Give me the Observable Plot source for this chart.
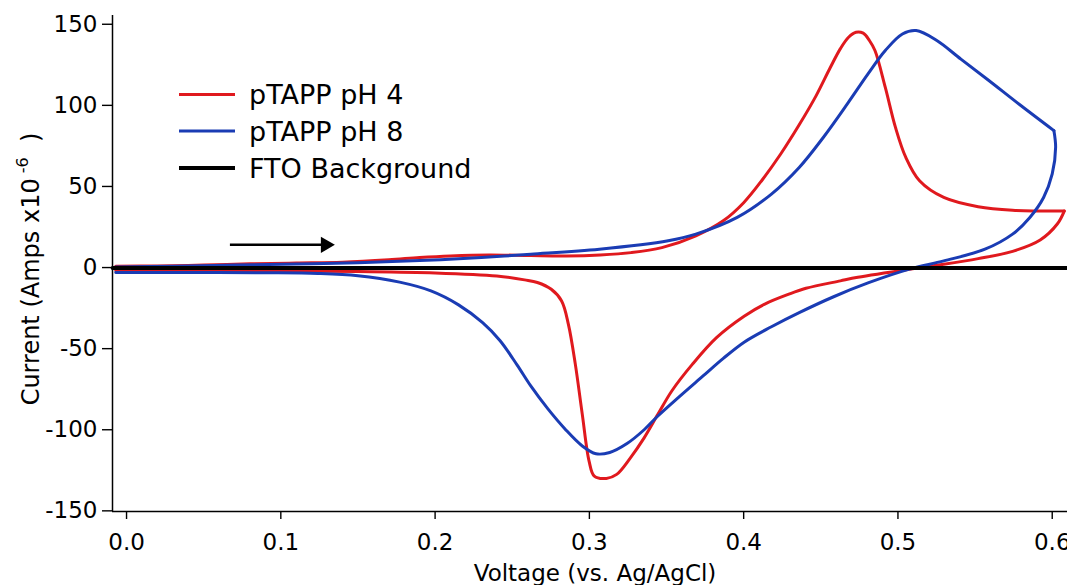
<!DOCTYPE html>
<html>
<head>
<meta charset="utf-8">
<script src="https://cdn.jsdelivr.net/npm/d3@7"></script>
<script src="https://cdn.jsdelivr.net/npm/@observablehq/plot@0.6"></script>
<style>
  html, body { margin: 0; padding: 0; background: #fff; }
  svg { display: block; }
</style>
</head>
<body>
<div id="chart"></div>
<script>
// ---- Data ----
const seriesNames = ["pTAPP pH 4", "pTAPP pH 8", "FTO Background"];
const seriesColors = ["#e0191e", "#1a3cb4", "#000000"];

// Voltage (V vs Ag/AgCl) and Current (A x 1e-6), forward and reverse scans
const ph4ForwardV = [-0.007,0.02,0.05,0.08,0.11,0.14,0.17,0.19,0.21,0.235,0.262,0.285,0.307,0.327,0.347,0.369,0.387,0.400,0.412,0.424,0.436,0.447,0.456,0.4627,0.468,0.4728,0.4775,0.4815,0.4851,0.4918,0.4984,0.5051,0.514,0.5297,0.552,0.5743,0.6078];
const ph4ForwardI = [0.8,1.0,1.5,2.3,2.8,3.3,4.8,6.2,7.2,7.8,7.4,7.2,7.8,9.2,12.3,19.6,29,40,54,70,88,106,123,135,142,145.1,144.5,140,133.8,111.1,86.4,67.9,53.5,43.2,37.5,35.3,34.8];
const ph4ReverseV = [0.6078,0.6034,0.5922,0.5743,0.552,0.5297,0.5074,0.474,0.4627,0.4404,0.4293,0.4137,0.4003,0.3824,0.3667,0.3534,0.3444,0.3355,0.3266,0.3177,0.311,0.3032,0.2998,0.2954,0.2909,0.2864,0.282,0.2753,0.2663,0.258,0.24,0.2,0.15,0.1,0.05,-0.007];
const ph4ReverseI = [34.8,27,17,10,5.5,2,-1,-6,-8.2,-12.8,-16.4,-22.5,-30,-43.2,-59.7,-76.1,-90.5,-105,-117.3,-127.5,-130,-128.6,-119.3,-90.5,-59.7,-35,-20.6,-13.4,-9.2,-7.6,-5.2,-3.3,-2.5,-2.2,-2.0,-1.8];

const ph8ForwardV = [-0.007,0.03,0.07,0.11,0.15,0.19,0.23,0.262,0.3065,0.3511,0.369,0.3958,0.418,0.436,0.4516,0.4672,0.4806,0.4918,0.5029,0.5118,0.5252,0.5408,0.5587,0.5788,0.6011];
const ph8ForwardI = [0.3,0.8,1.5,2.2,3.0,4.3,6.2,8.2,11.3,16.5,20.6,30.9,45.3,61.7,80.2,100.9,119.4,133.8,144,146.1,140,128.5,115.5,100.5,84.4];
const ph8ReverseV = [0.6011,0.6022,0.6,0.5944,0.5855,0.5743,0.5564,0.5297,0.5074,0.4806,0.4583,0.436,0.418,0.4003,0.3868,0.3735,0.3578,0.3444,0.3355,0.3244,0.3132,0.3043,0.2954,0.2842,0.273,0.262,0.2531,0.242,0.2308,0.2152,0.1973,0.177,0.15,0.124,0.09,0.04,-0.007];
const ph8ReverseI = [84.4,74.1,57.7,43.2,30.9,20.6,11.3,4.1,-1,-9.5,-18,-27.8,-36.5,-46,-56,-67,-80,-91.5,-100,-108.5,-114,-114.8,-110,-99.5,-87,-73,-60,-45,-34,-23,-14.4,-9,-5,-3.6,-3.2,-3.1,-3.0];

const ftoVoltage = [-0.009,0.1,0.2,0.3,0.4,0.5,0.61];
const ftoCurrent = [-0.2,-0.2,-0.2,-0.2,-0.2,-0.2,-0.2];

// scan-direction arrow (voltage start/end, current level)
const arrowVoltage = [0.067, 0.129];
const arrowCurrent = [14, 14];

const xTicks = [0.0, 0.1, 0.2, 0.3, 0.4, 0.5, 0.6];
const yTicks = [-150, -100, -50, 0, 50, 100, 150];
const xDomain = [-0.0091, 0.6099];
const yDomain = [-150.4, 155.4];

// ---- Build tables ----
const toRows = (vs, is, seg) => vs.map((v, k) => ({v, i: is[k], seg}));
const ph4 = [...toRows(ph4ForwardV, ph4ForwardI, "f"), ...toRows(ph4ReverseV, ph4ReverseI, "r")];
const ph8 = [...toRows(ph8ForwardV, ph8ForwardI, "f"), ...toRows(ph8ReverseV, ph8ReverseI, "r")];
const fto = toRows(ftoVoltage, ftoCurrent, "f");
const arrowRows = [{x1: arrowVoltage[0], x2: arrowVoltage[1], y1: arrowCurrent[0], y2: arrowCurrent[1]}];

const FONT = "DejaVu Sans";

const svg = Plot.plot({
  width: 1067,
  height: 585,
  marginLeft: 112,
  marginRight: 0,
  marginTop: 15,
  marginBottom: 74,
  style: {fontFamily: FONT, background: "#fff", color: "#000"},
  x: {domain: xDomain},
  y: {domain: yDomain},
  marks: [
    Plot.axisX({ticks: xTicks, tickSize: 8, tickPadding: 14, fontSize: 23, label: null, tickFormat: d3.format(".1f"), stroke: "#000", strokeWidth: 1.4}),
    Plot.axisY({ticks: yTicks, tickSize: 10, tickPadding: 5, fontSize: 23, label: null, tickFormat: d => String(d), stroke: "#000", strokeWidth: 1.4}),
    Plot.ruleX([xDomain[0]], {stroke: "#000", strokeWidth: 1.5}),
    Plot.ruleY([yDomain[0]], {stroke: "#000", strokeWidth: 1.5}),
    Plot.line(ph4, {x: "v", y: "i", z: "seg", stroke: seriesColors[0], strokeWidth: 3, curve: "catmull-rom"}),
    Plot.line(ph8, {x: "v", y: "i", z: "seg", stroke: seriesColors[1], strokeWidth: 3, curve: "catmull-rom"}),
    Plot.line(fto, {x: "v", y: "i", stroke: seriesColors[2], strokeWidth: 4}),
    Plot.link(arrowRows, {x1: "x1", x2: "x2", y1: "y1", y2: "y2", stroke: "#000", strokeWidth: 2.5}),
    Plot.dot(arrowRows, {x: "x2", y: "y2", symbol: "triangle", rotate: 90, fill: "#000", stroke: "none", r: 6})
  ]
});

document.getElementById("chart").appendChild(svg);

const s = d3.select(svg);
// Axis titles
s.append("text")
  .attr("x", 595).attr("y", 581)
  .attr("text-anchor", "middle")
  .attr("font-family", FONT).attr("font-size", 23).attr("fill", "#000")
  .text("Voltage (vs. Ag/AgCl)");

const yl = s.append("text")
  .attr("transform", "translate(39,269) rotate(-90)")
  .attr("text-anchor", "middle")
  .attr("font-family", FONT).attr("font-size", 24).attr("fill", "#000")
  .style("white-space", "pre");
yl.append("tspan").text("Current (Amps x10");
yl.append("tspan").attr("dy", -11).attr("font-size", 16).text(" -6");
yl.append("tspan").attr("dy", 11).text("  )");

// Legend
const legendY = [94.5, 131, 168];
const lg = s.append("g").attr("text-anchor", "start");
seriesNames.forEach((name, k) => {
  lg.append("line")
    .attr("x1", 179).attr("x2", 235)
    .attr("y1", legendY[k]).attr("y2", legendY[k])
    .attr("stroke", seriesColors[k]).attr("stroke-width", k === 2 ? 4 : 3);
  lg.append("text")
    .attr("x", 249).attr("y", legendY[k])
    .attr("dy", "0.36em")
    .attr("text-anchor", "start")
    .attr("font-family", FONT).attr("font-size", 27).attr("fill", "#000")
    .text(name);
});
</script>
</body>
</html>
